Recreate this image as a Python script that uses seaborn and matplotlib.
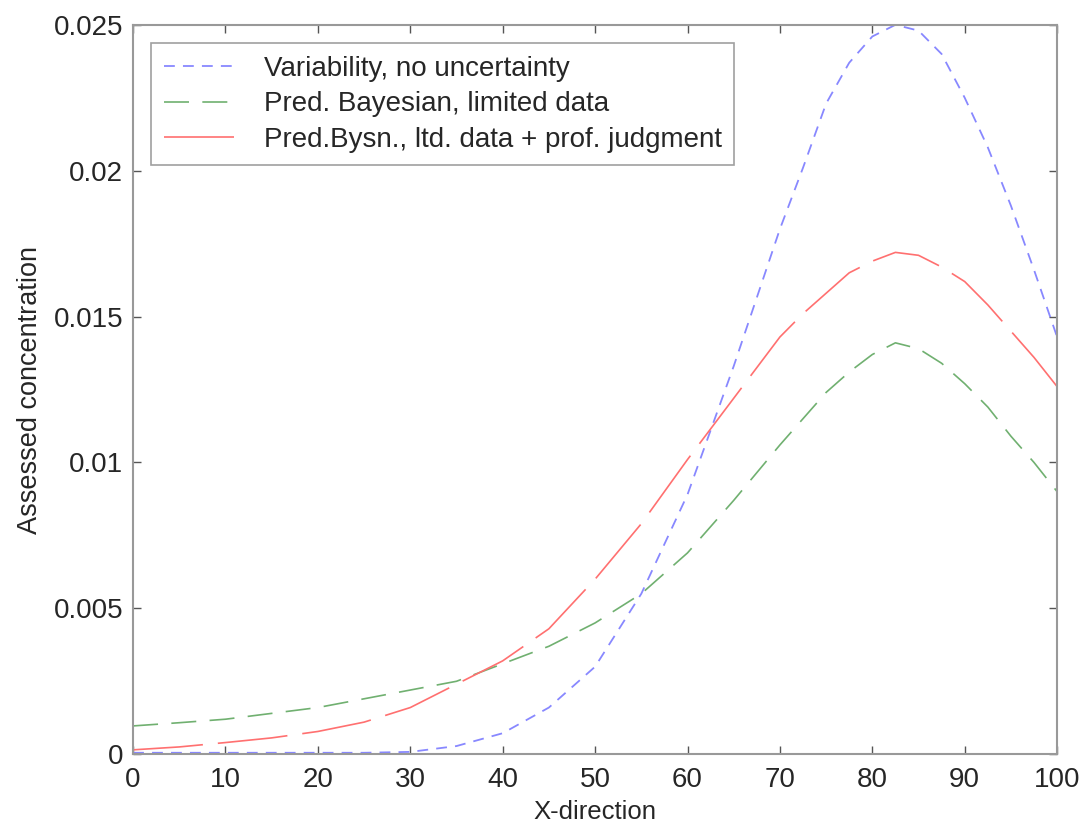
import numpy as np
import matplotlib
matplotlib.use("Agg")
import matplotlib.pyplot as plt
import seaborn as sns

x = [0, 5, 10, 15, 20, 25, 30, 35, 40, 45, 50, 55, 60, 65, 70, 72.5, 75, 77.5, 80, 82.5, 85,
     87.5, 90, 92.5, 95, 97.5, 100]
variability = [0.00005, 0.00005, 0.00005, 0.00005, 0.00005, 0.00005, 0.00008, 0.00028, 0.00072,
               0.0016, 0.0030, 0.0055, 0.0089, 0.0133, 0.0180, 0.0201, 0.0223, 0.0237, 0.0246,
               0.0250, 0.0248, 0.0240, 0.0225, 0.0208, 0.0188, 0.0166, 0.0143]
bayes = [0.00097, 0.00108, 0.0012, 0.0014, 0.0016, 0.0019, 0.0022, 0.0025, 0.0031, 0.0037,
         0.0045, 0.0055, 0.0069, 0.0087, 0.0106, 0.0115, 0.0124, 0.0131, 0.0137, 0.0141, 0.0139,
         0.0134, 0.0127, 0.0119, 0.0109, 0.0100, 0.0090]
bysn_prof = [0.00015, 0.00025, 0.0004, 0.00056, 0.00078, 0.0011, 0.0016, 0.0024, 0.0032, 0.0043,
             0.0060, 0.0079, 0.0101, 0.0122, 0.0143, 0.0151, 0.0158, 0.0165, 0.0169, 0.0172,
             0.0171, 0.0167, 0.0162, 0.0154, 0.0145, 0.0136, 0.0126]
labels = ["Variability, no uncertainty", "Pred. Bayesian, limited data",
          "Pred.Bysn., ltd. data + prof. judgment"]

sns.set_style("ticks")
plt.rcParams['font.family'] = ['Liberation Sans', 'DejaVu Sans']

fig = plt.figure(figsize=(10.82, 8.27), dpi=100)
ax = fig.add_axes([0.123, 0.088, 0.854, 0.882])

sns.lineplot(x=x, y=variability, ax=ax, color='#8888ff', lw=1.3,
             linestyle=(0, (6, 4.5)), label=labels[0])
sns.lineplot(x=x, y=bayes, ax=ax, color='#70b070', lw=1.2,
             linestyle=(0, (15, 8)), label=labels[1])
sns.lineplot(x=x, y=bysn_prof, ax=ax, color='#ff7070', lw=1.2,
             linestyle=(0, (42, 9)), label=labels[2])

ax.set_xlim(0, 100)
ax.set_ylim(0, 0.025)
ax.set_xticks(np.arange(0, 101, 10))
ax.set_yticks([0, 0.005, 0.01, 0.015, 0.02, 0.025])
ax.set_yticklabels(['0', '0.005', '0.01', '0.015', '0.02', '0.025'])
ax.tick_params(direction='in', top=True, right=True, labelsize=20, length=6,
               color='#555555', width=1, pad=7)
ax.tick_params(axis='x', pad=9)
for s in ax.spines.values():
    s.set_color('#999999')
    s.set_linewidth(1.5)
ax.set_xlabel("X-direction", fontsize=18.5, labelpad=5)
ax.set_ylabel("Assessed concentration", fontsize=19.5, labelpad=8)

leg = ax.legend(loc='upper left', fontsize=20, handlelength=2.7, handletextpad=0.9,
                frameon=True, fancybox=False, edgecolor='#888888', borderpad=0.45,
                labelspacing=0.35, borderaxespad=0, bbox_to_anchor=(0.0195, 0.975))
leg.get_frame().set_linewidth(1.2)

fig.savefig("out.png", dpi=100)
